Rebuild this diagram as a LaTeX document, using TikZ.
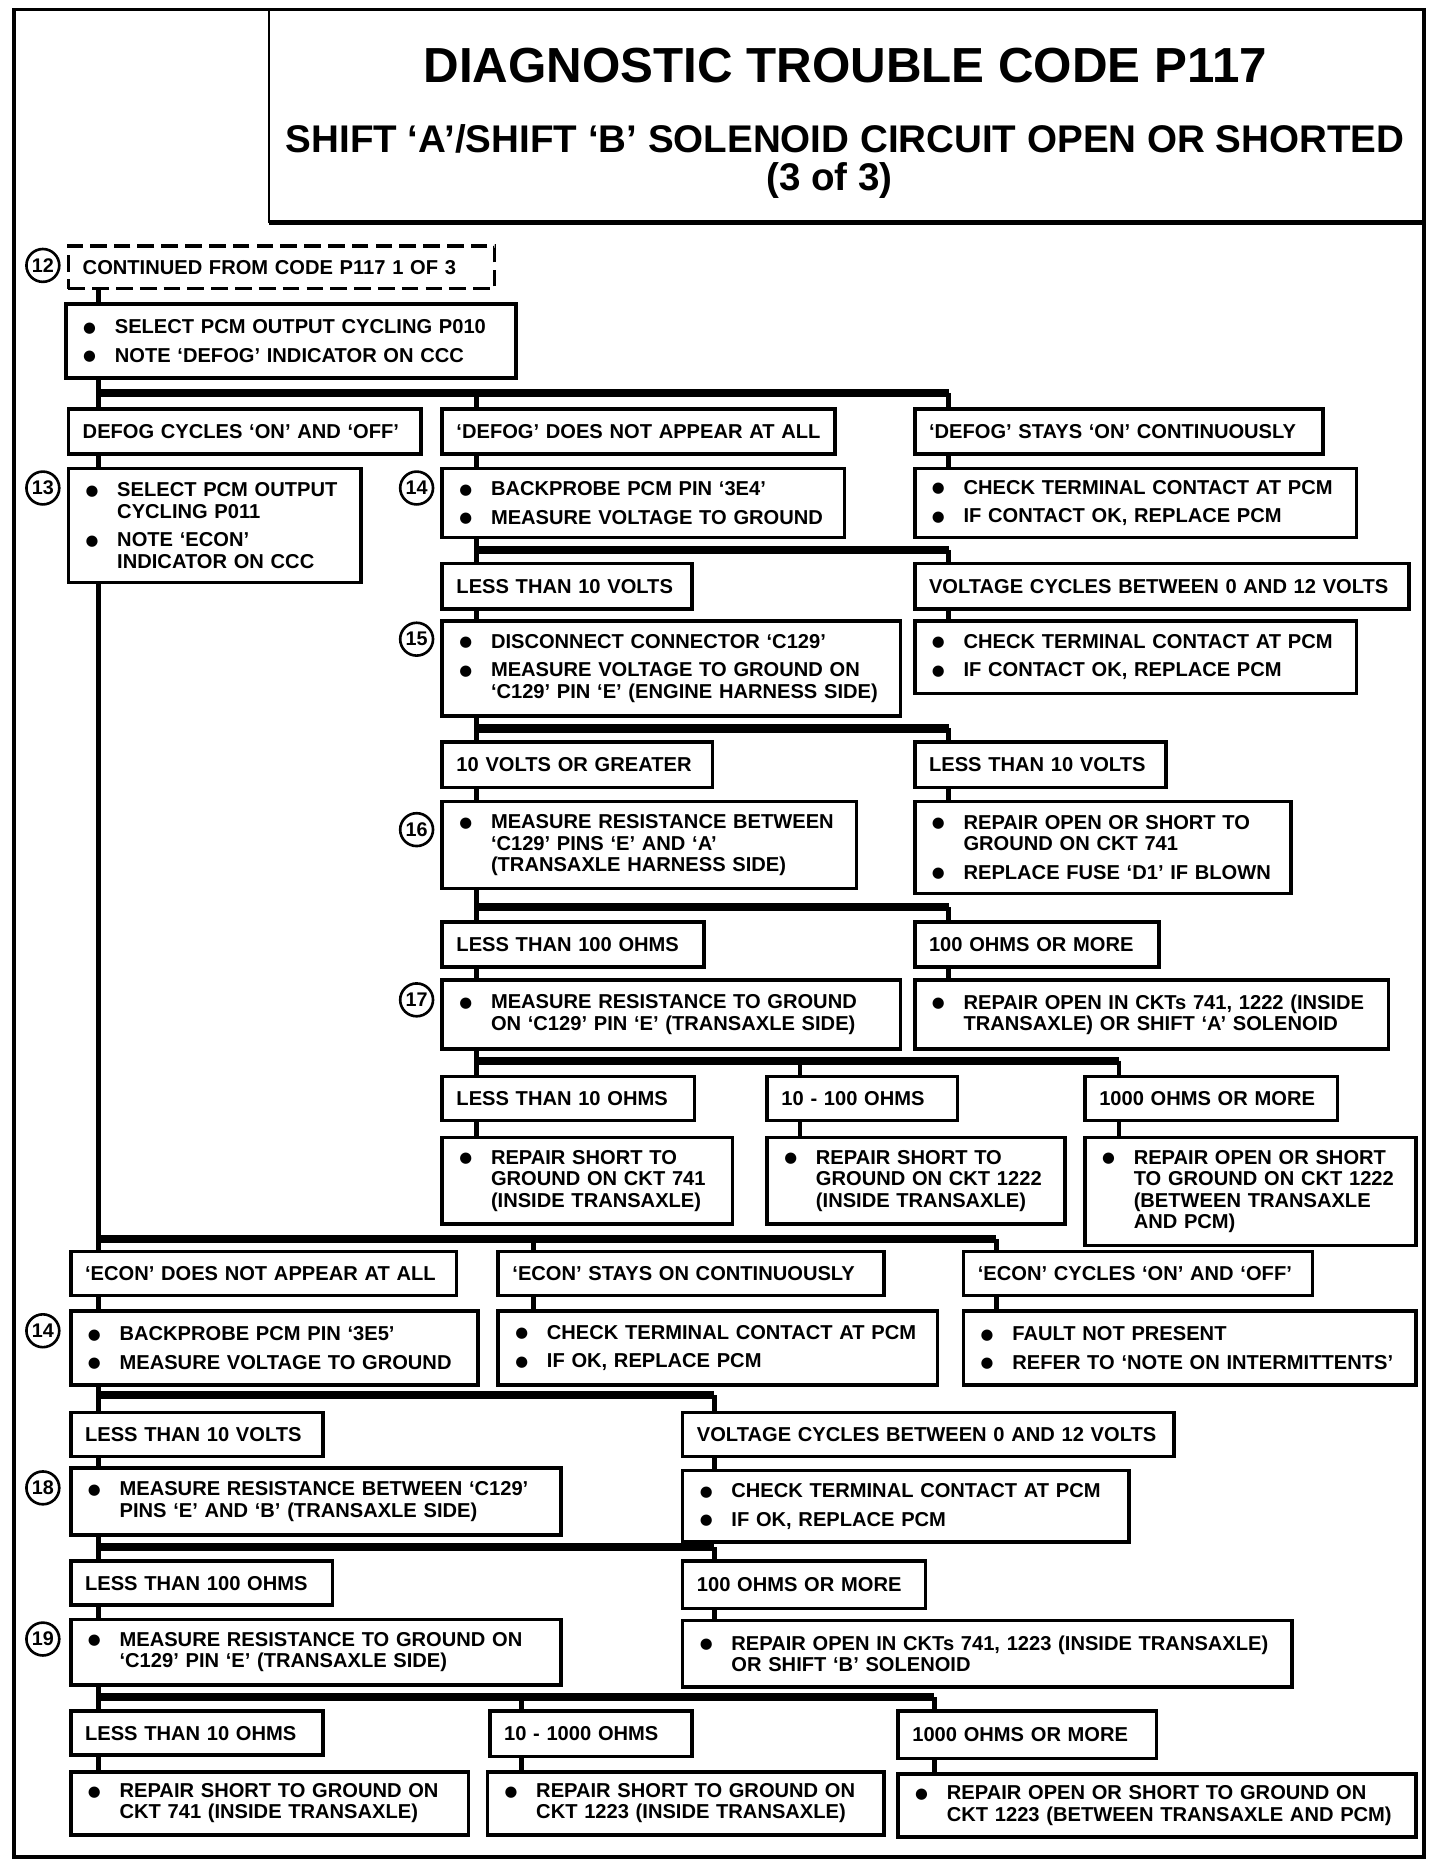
\documentclass[tikz,border=0pt]{standalone}
\usepackage{fontspec}
\setmainfont{Liberation Sans}
\newfontfamily\dejavu{DejaVu Sans}
\usetikzlibrary{calc}
\newcommand\bxfont{\fontsize{8.45}{9}\selectfont\bfseries}
\newcommand\bt{\makebox[13.5pt][l]{\hspace*{0.2pt}\raisebox{0.6pt}{\dejavu\fontsize{6.2}{6}\selectfont ●}}}
\newcommand\bi[1]{\mbox{\bt #1}}
\newcommand\ci[1]{\mbox{\hspace*{13.5pt}#1}}
\newcommand\li[1]{\mbox{#1}}
% #1 style, #2 pad, #3 name, #4 x1, #5 y1, #6 x2, #7 y2, #8 text
\newcommand\bx[8]{%
  \pgfmathsetmacro\bw{(#6-#4)*0.5}%
  \pgfmathsetmacro\bh{(#7-#5)*0.5}%
  \pgfmathsetmacro\tw{\bw-2*#2}%
  \node[#1, inner xsep=#2pt, anchor=north west, minimum width=\bw pt,
        minimum height=\bh pt, text width=\tw pt] (#3) at (#4,#5) {#8};}
\tikzset{
  box/.style={draw, line width=1.5pt, rectangle, inner ysep=0pt, align=left, font=\bxfont},
  dbox/.style={box, dash pattern=on 7pt off 3pt},
  num/.style={circle, draw, line width=1.1pt, minimum size=13.8pt, inner sep=0pt,
              font=\fontsize{8.3}{9}\selectfont\bfseries},
  vline/.style={line width=2pt},
  bus/.style={line width=3.4pt},
  frame/.style={line width=1.6pt},
}
\begin{document}
\begin{tikzpicture}[x=0.5pt,y=-0.5pt]
\useasboundingbox (0,0) rectangle (1210,1566);
% frame and title box
\draw[frame] (12,8) rectangle (1196,1560);
\draw[line width=1.2pt] (226,8) -- (226,187);
\draw[line width=2pt] (226,187) -- (1196,187);
\node[font=\fontsize{20.7}{24}\selectfont\bfseries] (t1) at (710,55) {DIAGNOSTIC TROUBLE CODE P117};
\node[font=\fontsize{16.2}{19}\selectfont\bfseries] (t2) at (710,117) {SHIFT ‘A’/SHIFT ‘B’ SOLENOID CIRCUIT OPEN OR SHORTED};
\node[font=\fontsize{16.2}{19}\selectfont\bfseries] (t3) at (697,152) {(3 of 3)};

% ---------- upper part ----------
\node[num] (c12) at (36,223) {12};
\bx{dbox}{6}{d12}{56}{205}{414}{241}{\li{CONTINUED FROM CODE P117 1 OF 3}}
\bx{box}{7}{b1}{54}{254}{432}{316}{\bi{SELECT PCM OUTPUT CYCLING P010}\\[3pt]\bi{NOTE ‘DEFOG’ INDICATOR ON CCC}}
\coordinate (j1a) at (83,330); \coordinate (j1b) at (400,330); \coordinate (j1c) at (797,330);
\bx{box}{6}{r1a}{56}{342}{352}{380}{\li{DEFOG CYCLES ‘ON’ AND ‘OFF’}}
\bx{box}{6}{r1b}{370}{342}{700}{380}{\li{‘DEFOG’ DOES NOT APPEAR AT ALL}}
\bx{box}{6}{r1c}{767}{342}{1110}{380}{\li{‘DEFOG’ STAYS ‘ON’ CONTINUOUSLY}}

\node[num] (c13) at (36,410) {13};
\bx{box}{7}{b13}{56}{392}{302}{488}{\bi{SELECT PCM OUTPUT}\\\ci{CYCLING P011}\\[3pt]\bi{NOTE ‘ECON’}\\\ci{INDICATOR ON CCC}}
\node[num] (c14) at (350,410) {14};
\bx{box}{7}{b14}{370}{392}{708}{450}{\bi{BACKPROBE PCM PIN ‘3E4’}\\[3pt]\bi{MEASURE VOLTAGE TO GROUND}}
\bx{box}{7}{b14r}{767}{392}{1138}{450}{\bi{CHECK TERMINAL CONTACT AT PCM}\\[3pt]\bi{IF CONTACT OK, REPLACE PCM}}

\coordinate (j2a) at (400,462); \coordinate (j2b) at (797,462);
\bx{box}{6}{r2a}{370}{472}{580}{510}{\li{LESS THAN 10 VOLTS}}
\bx{box}{6}{r2b}{767}{472}{1182}{510}{\li{VOLTAGE CYCLES BETWEEN 0 AND 12 VOLTS}}
\node[num] (c15) at (350,537) {15};
\bx{box}{7}{b15}{370}{520}{755}{600}{\bi{DISCONNECT CONNECTOR ‘C129’}\\[3pt]\bi{MEASURE VOLTAGE TO GROUND ON}\\\ci{‘C129’ PIN ‘E’ (ENGINE HARNESS SIDE)}}
\bx{box}{7}{b15r}{767}{520}{1138}{581}{\bi{CHECK TERMINAL CONTACT AT PCM}\\[3pt]\bi{IF CONTACT OK, REPLACE PCM}}

\coordinate (j3a) at (400,612); \coordinate (j3b) at (797,612);
\bx{box}{6}{r3a}{370}{622}{597}{660}{\li{10 VOLTS OR GREATER}}
\bx{box}{6}{r3b}{767}{622}{978}{660}{\li{LESS THAN 10 VOLTS}}
\node[num] (c16) at (350,697) {16};
\bx{box}{7}{b16}{370}{672}{718}{745}{\bi{MEASURE RESISTANCE BETWEEN}\\\ci{‘C129’ PINS ‘E’ AND ‘A’}\\\ci{(TRANSAXLE HARNESS SIDE)}}
\bx{box}{7}{b16r}{767}{672}{1083}{749}{\bi{REPAIR OPEN OR SHORT TO}\\\ci{GROUND ON CKT 741}\\[3pt]\bi{REPLACE FUSE ‘D1’ IF BLOWN}}

\coordinate (j4a) at (400,762); \coordinate (j4b) at (797,762);
\bx{box}{6}{r4a}{370}{773}{590}{811}{\li{LESS THAN 100 OHMS}}
\bx{box}{6}{r4b}{767}{773}{972}{811}{\li{100 OHMS OR MORE}}
\node[num] (c17) at (350,840) {17};
\bx{box}{7}{b17}{370}{822}{755}{880}{\bi{MEASURE RESISTANCE TO GROUND}\\\ci{ON ‘C129’ PIN ‘E’ (TRANSAXLE SIDE)}}
\bx{box}{7}{b17r}{767}{822}{1165}{880}{\bi{REPAIR OPEN IN CKTs 741, 1222 (INSIDE}\\\ci{TRANSAXLE) OR SHIFT ‘A’ SOLENOID}}

\coordinate (j5a) at (400,891); \coordinate (j5b) at (672,891); \coordinate (j5c) at (940,891);
\bx{box}{6}{r5a}{370}{903}{582}{940}{\li{LESS THAN 10 OHMS}}
\bx{box}{6}{r5b}{643}{903}{803}{940}{\li{10 - 100 OHMS}}
\bx{box}{6}{r5c}{910}{903}{1122}{940}{\li{1000 OHMS OR MORE}}
\bx{box}{7}{b18a}{370}{954}{614}{1027}{\bi{REPAIR SHORT TO}\\\ci{GROUND ON CKT 741}\\\ci{(INSIDE TRANSAXLE)}}
\bx{box}{7}{b18b}{643}{954}{893}{1027}{\bi{REPAIR SHORT TO}\\\ci{GROUND ON CKT 1222}\\\ci{(INSIDE TRANSAXLE)}}
\bx{box}{7}{b18c}{910}{954}{1188}{1045}{\bi{REPAIR OPEN OR SHORT}\\\ci{TO GROUND ON CKT 1222}\\\ci{(BETWEEN TRANSAXLE}\\\ci{AND PCM)}}

% ---------- lower part ----------
\coordinate (j6a) at (83,1041); \coordinate (j6b) at (448,1041); \coordinate (j6c) at (837,1041);
\bx{box}{6}{r6a}{58}{1050}{382}{1087}{\li{‘ECON’ DOES NOT APPEAR AT ALL}}
\bx{box}{6}{r6b}{417}{1050}{741}{1087}{\li{‘ECON’ STAYS ON CONTINUOUSLY}}
\bx{box}{6}{r6c}{808}{1050}{1101}{1087}{\li{‘ECON’ CYCLES ‘ON’ AND ‘OFF’}}
\node[num] (c14b) at (36,1118) {14};
\bx{box}{7}{b6a}{58}{1100}{400}{1162}{\bi{BACKPROBE PCM PIN ‘3E5’}\\[3pt]\bi{MEASURE VOLTAGE TO GROUND}}
\bx{box}{7}{b6b}{417}{1100}{786}{1162}{\bi{CHECK TERMINAL CONTACT AT PCM}\\[3pt]\bi{IF OK, REPLACE PCM}}
\bx{box}{7}{b6c}{808}{1100}{1188}{1162}{\bi{FAULT NOT PRESENT}\\[3pt]\bi{REFER TO ‘NOTE ON INTERMITTENTS’}}

\coordinate (j7a) at (83,1172); \coordinate (j7b) at (600,1172);
\bx{box}{6}{r7a}{58}{1185}{270}{1222}{\li{LESS THAN 10 VOLTS}}
\bx{box}{6}{r7b}{572}{1185}{985}{1222}{\li{VOLTAGE CYCLES BETWEEN 0 AND 12 VOLTS}}
\node[num] (c18) at (36,1250) {18};
\bx{box}{7}{b7a}{58}{1232}{470}{1288}{\bi{MEASURE RESISTANCE BETWEEN ‘C129’}\\\ci{PINS ‘E’ AND ‘B’ (TRANSAXLE SIDE)}}
\bx{box}{7}{b7b}{572}{1234}{947}{1294}{\bi{CHECK TERMINAL CONTACT AT PCM}\\[3pt]\bi{IF OK, REPLACE PCM}}

\coordinate (j8a) at (83,1300); \coordinate (j8b) at (600,1300);
\bx{box}{6}{r8a}{58}{1310}{278}{1347}{\li{LESS THAN 100 OHMS}}
\bx{box}{6}{r8b}{572}{1310}{776}{1350}{\li{100 OHMS OR MORE}}
\node[num] (c19) at (36,1377) {19};
\bx{box}{7}{b8a}{58}{1359}{470}{1414}{\bi{MEASURE RESISTANCE TO GROUND ON}\\\ci{‘C129’ PIN ‘E’ (TRANSAXLE SIDE)}}
\bx{box}{7}{b8b}{572}{1360}{1084}{1416}{\bi{REPAIR OPEN IN CKTs 741, 1223 (INSIDE TRANSAXLE)}\\\ci{OR SHIFT ‘B’ SOLENOID}}

\coordinate (j9a) at (83,1426); \coordinate (j9b) at (438,1426); \coordinate (j9c) at (785,1426);
\bx{box}{6}{r9a}{58}{1436}{270}{1473}{\li{LESS THAN 10 OHMS}}
\bx{box}{6}{r9b}{410}{1436}{580}{1474}{\li{10 - 1000 OHMS}}
\bx{box}{6}{r9c}{753}{1436}{970}{1476}{\li{1000 OHMS OR MORE}}
\bx{box}{7}{b9a}{58}{1487}{392}{1540}{\bi{REPAIR SHORT TO GROUND ON}\\\ci{CKT 741 (INSIDE TRANSAXLE)}}
\bx{box}{7}{b9b}{408}{1487}{741}{1540}{\bi{REPAIR SHORT TO GROUND ON}\\\ci{CKT 1223 (INSIDE TRANSAXLE)}}
\bx{box}{7}{b9c}{753}{1489}{1188}{1542}{\bi{REPAIR OPEN OR SHORT TO GROUND ON}\\\ci{CKT 1223 (BETWEEN TRANSAXLE AND PCM)}}

% ---------- connectors ----------
\draw[vline] (d12.south -| j1a) -- (b1.north -| j1a);
\draw[vline] (b1.south -| j1a) -- (j1a);
\draw[bus] (j1a) -- (j1c);
\draw[vline] (j1a) -- (r1a.north -| j1a);
\draw[vline] (j1b) -- (r1b.north -| j1b);
\draw[vline] (j1c) -- (r1c.north -| j1c);
\draw[vline] (r1a.south -| j1a) -- (b13.north -| j1a);
\draw[vline] (r1b.south -| j1b) -- (b14.north -| j1b);
\draw[vline] (r1c.south -| j1c) -- (b14r.north -| j1c);

\draw[vline] (b14.south -| j2a) -- (j2a);
\draw[bus] (j2a) -- (j2b);
\draw[vline] (j2a) -- (r2a.north -| j2a);
\draw[vline] (j2b) -- (r2b.north -| j2b);
\draw[vline] (r2a.south -| j2a) -- (b15.north -| j2a);
\draw[vline] (r2b.south -| j2b) -- (b15r.north -| j2b);

\draw[vline] (b15.south -| j3a) -- (j3a);
\draw[bus] (j3a) -- (j3b);
\draw[vline] (j3a) -- (r3a.north -| j3a);
\draw[vline] (j3b) -- (r3b.north -| j3b);
\draw[vline] (r3a.south -| j3a) -- (b16.north -| j3a);
\draw[vline] (r3b.south -| j3b) -- (b16r.north -| j3b);

\draw[vline] (b16.south -| j4a) -- (j4a);
\draw[bus] (j4a) -- (j4b);
\draw[vline] (j4a) -- (r4a.north -| j4a);
\draw[vline] (j4b) -- (r4b.north -| j4b);
\draw[vline] (r4a.south -| j4a) -- (b17.north -| j4a);
\draw[vline] (r4b.south -| j4b) -- (b17r.north -| j4b);

\draw[vline] (b17.south -| j5a) -- (j5a);
\draw[bus] (j5a) -- (j5c);
\draw[vline] (j5a) -- (r5a.north -| j5a);
\draw[vline] (j5b) -- (r5b.north -| j5b);
\draw[vline] (j5c) -- (r5c.north -| j5c);
\draw[vline] (r5a.south -| j5a) -- (b18a.north -| j5a);
\draw[vline] (r5b.south -| j5b) -- (b18b.north -| j5b);
\draw[vline] (r5c.south -| j5c) -- (b18c.north -| j5c);

\draw[vline] (b13.south -| j6a) -- (j6a);
\draw[bus] (j6a) -- (j6c);
\draw[vline] (j6a) -- (r6a.north -| j6a);
\draw[vline] (j6b) -- (r6b.north -| j6b);
\draw[vline] (j6c) -- (r6c.north -| j6c);
\draw[vline] (r6a.south -| j6a) -- (b6a.north -| j6a);
\draw[vline] (r6b.south -| j6b) -- (b6b.north -| j6b);
\draw[vline] (r6c.south -| j6c) -- (b6c.north -| j6c);

\draw[vline] (b6a.south -| j7a) -- (j7a);
\draw[bus] (j7a) -- (j7b);
\draw[vline] (j7a) -- (r7a.north -| j7a);
\draw[vline] (j7b) -- (r7b.north -| j7b);
\draw[vline] (r7a.south -| j7a) -- (b7a.north -| j7a);
\draw[vline] (r7b.south -| j7b) -- (b7b.north -| j7b);

\draw[vline] (b7a.south -| j8a) -- (j8a);
\draw[bus] (j8a) -- (j8b);
\draw[vline] (j8a) -- (r8a.north -| j8a);
\draw[vline] (j8b) -- (r8b.north -| j8b);
\draw[vline] (r8a.south -| j8a) -- (b8a.north -| j8a);
\draw[vline] (r8b.south -| j8b) -- (b8b.north -| j8b);

\draw[vline] (b8a.south -| j9a) -- (j9a);
\draw[bus] (j9a) -- (j9c);
\draw[vline] (j9a) -- (r9a.north -| j9a);
\draw[vline] (j9b) -- (r9b.north -| j9b);
\draw[vline] (j9c) -- (r9c.north -| j9c);
\draw[vline] (r9a.south -| j9a) -- (b9a.north -| j9a);
\draw[vline] (r9b.south -| j9b) -- (b9b.north -| j9b);
\draw[vline] (r9c.south -| j9c) -- (b9c.north -| j9c);
\end{tikzpicture}
\end{document}
